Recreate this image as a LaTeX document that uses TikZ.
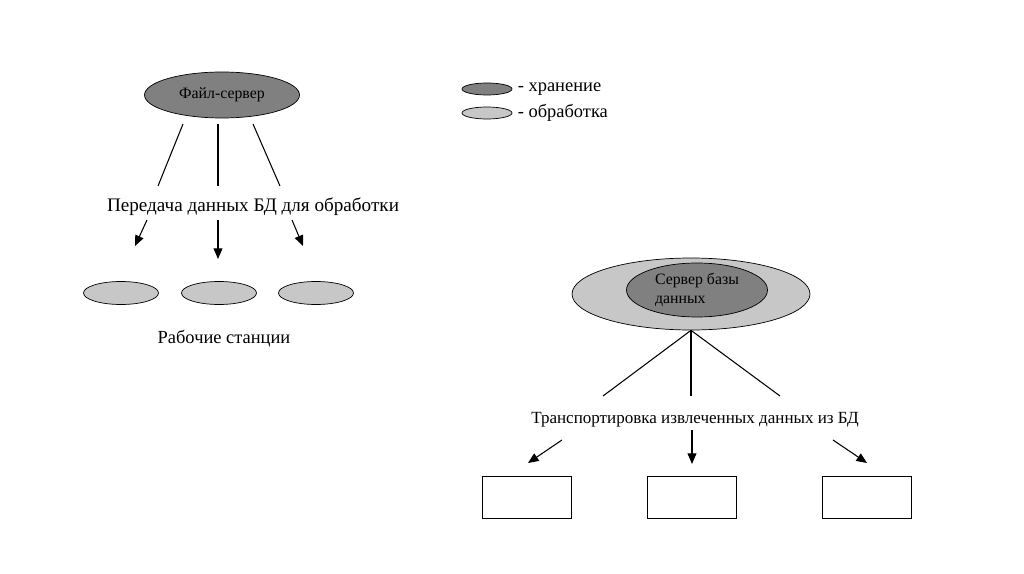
\documentclass[tikz,border=0pt]{standalone}
\usepackage{fontspec}
\setmainfont{Liberation Serif}
\usetikzlibrary{arrows.meta,shapes.geometric}

\begin{document}
\begin{tikzpicture}[
    x=0.02cm, y=-0.02cm,
    store/.style={draw=black, ellipse, fill=black!50, inner sep=0pt, font=\fontsize{9}{10.5}\selectfont},
    work/.style={draw=black, ellipse, fill=black!22, inner sep=0pt, minimum width=1.5cm, minimum height=0.46cm},
    client/.style={draw=black, rectangle, minimum width=1.78cm, minimum height=0.84cm},
    caption/.style={font=\fontsize{10.5}{12}\selectfont, inner sep=0pt},
    line/.style={line width=0.6pt},
    arrow/.style={line width=0.6pt, -{Triangle[length=6pt, width=5pt]}}
]
  \useasboundingbox (0,0) rectangle (1024,574);

  % File server part
  \node (fs) [store, minimum width=3.1cm, minimum height=0.92cm] at (222,95) {Файл-сервер};
  \node (pass) [caption, font=\fontsize{10.9}{12}\selectfont] at (253,207) {Передача данных БД для обработки};
  \node (ws1) [work] at (121,293) {};
  \node (ws2) [work] at (219,293) {};
  \node (ws3) [work] at (316,293) {};
  \node (wsl) [caption] at (224,339) {Рабочие станции};

  \coordinate (fsa) at (183,124);
  \coordinate (fsb) at (218,124);
  \coordinate (fsc) at (253,124);
  \coordinate (pa) at (158,186);
  \coordinate (pb) at (218,186);
  \coordinate (pc) at (280,186);
  \coordinate (qa) at (147,220);
  \coordinate (qb) at (218,220);
  \coordinate (qc) at (292,220);
  \coordinate (ra) at (135,246);
  \coordinate (rb) at (218,259);
  \coordinate (rc) at (303,246);

  \draw [line] (fsa) -- (pa);
  \draw [line] (fsb) -- (pb);
  \draw [line] (fsc) -- (pc);
  \draw [arrow] (qa) -- (ra);
  \draw [arrow] (qb) -- (rb);
  \draw [arrow] (qc) -- (rc);

  % Legend
  \node (ks) [store, minimum width=1.0cm, minimum height=0.24cm] at (487,89) {};
  \node (kw) [work, minimum width=1.0cm, minimum height=0.24cm] at (487,113) {};
  \node [caption, anchor=west] at (ks.east) {\;- хранение};
  \node [caption, anchor=west] at (kw.east) {\;- обработка};

  % Database server part
  \node (dbo) [work, minimum width=4.76cm, minimum height=1.44cm] at (691,294) {};
  \node (dbs) [store, minimum width=2.82cm, minimum height=1.08cm, align=left] at (697,290) {Сервер базы\\данных};
  \node (trans) [caption, font=\fontsize{9.7}{11}\selectfont] at (695,420) {Транспортировка извлеченных данных из БД};
  \node (c1) [client] at (527,497) {};
  \node (c2) [client] at (692,497) {};
  \node (c3) [client] at (867,497) {};

  \coordinate (ta) at (603,396);
  \coordinate (tb) at (691,396);
  \coordinate (tc) at (780,396);
  \coordinate (ua) at (562,440);
  \coordinate (ub) at (692,430);
  \coordinate (uc) at (833,440);
  \coordinate (va) at (528,463);
  \coordinate (vb) at (692,464);
  \coordinate (vc) at (867,463);

  \draw [line] (dbo.south) -- (ta);
  \draw [line] (dbo.south) -- (tb);
  \draw [line] (dbo.south) -- (tc);
  \draw [arrow] (ua) -- (va);
  \draw [arrow] (ub) -- (vb);
  \draw [arrow] (uc) -- (vc);
\end{tikzpicture}
\end{document}
